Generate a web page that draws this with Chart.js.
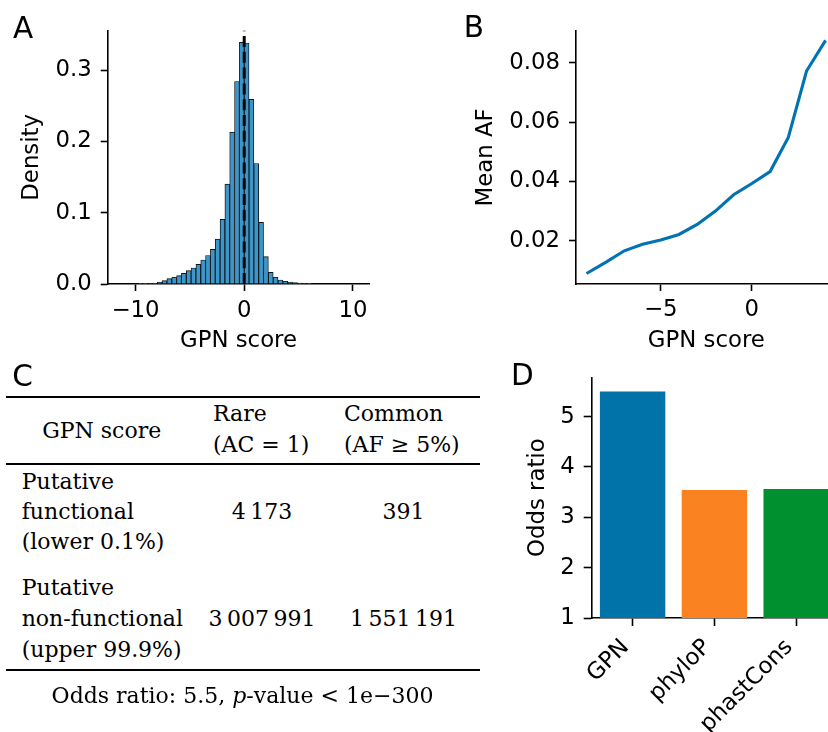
<!DOCTYPE html>
<html><head><meta charset="utf-8">
<script src="https://cdn.jsdelivr.net/npm/chart.js@4.4.0/dist/chart.umd.min.js"></script>
<style>
html,body{margin:0;padding:0;width:828px;height:732px;overflow:hidden;background:#fff;}
#fig{position:relative;width:828px;height:732px;overflow:hidden;background:#fff;}
canvas{position:absolute;}
.t{position:absolute;white-space:nowrap;font-family:'DejaVu Serif';font-size:22px;line-height:22px;color:#000;}
.lbl{position:absolute;white-space:nowrap;font-family:'DejaVu Sans';font-size:29.5px;line-height:29.5px;color:#000;}
.rule{position:absolute;background:#000;left:6px;width:474px;}
</style></head>
<body><div id="fig">
<canvas id="cA" width="420" height="370" style="left:0;top:0"></canvas>
<canvas id="cB" width="440" height="370" style="left:440px;top:0"></canvas>
<canvas id="cD" width="400" height="382" style="left:470px;top:350px"></canvas>
</div>
<script>
// ---------- data ----------
// Panel A: GPN score histogram (bin centres, density)
const histBinCenters = [-9.546, -9.102, -8.658, -8.214, -7.770, -7.326, -6.882, -6.438, -5.994, -5.550, -5.106, -4.662, -4.218, -3.774, -3.330, -2.886, -2.442, -1.998, -1.554, -1.110, -0.666, -0.222, 0.222, 0.666, 1.110, 1.554, 1.998, 2.442, 2.886, 3.330, 3.774, 4.218, 4.662, 5.106, 5.550, 5.994];
const histDensity = [0.0002, 0.0004, 0.0008, 0.0014, 0.0028, 0.0047, 0.0075, 0.0094, 0.0117, 0.0150, 0.0187, 0.0224, 0.0276, 0.0337, 0.0400, 0.0486, 0.0630, 0.0907, 0.1400, 0.2130, 0.2840, 0.3390, 0.3380, 0.2590, 0.1690, 0.0865, 0.0383, 0.0164, 0.0094, 0.0056, 0.0038, 0.0026, 0.0019, 0.0012, 0.0008, 0.0005];
const histXTicks = [-10, 0, 10];
const histYTicks = [0, 0.1, 0.2, 0.3];
const medianLineX = 0;

// Panel B: mean allele frequency by GPN score
const afScores = [-9, -8, -7, -6, -5, -4, -3, -2, -1, 0, 1, 2, 3, 4];
const meanAF = [0.0092, 0.0128, 0.0166, 0.0188, 0.0202, 0.0221, 0.0255, 0.0300, 0.0355, 0.0393, 0.0433, 0.0548, 0.0772, 0.0871];
const afXTicks = [-5, 0];
const afYTicks = [0.02, 0.04, 0.06, 0.08];

// Panel C: contingency table
const tableHeader = ['GPN score', ['Rare', '(AC = 1)'], ['Common', '(AF \u2265 5%)']];
const tableRowLabels = [['Putative', 'functional', '(lower 0.1%)'], ['Putative', 'non-functional', '(upper 99.9%)']];
const rareCounts = ['4\u2009173', '3\u2009007\u2009991'];
const commonCounts = ['391', '1\u2009551\u2009191'];
const tableCaption = 'Odds ratio: 5.5, <i>p</i>-value &lt; 1e\u2212300';

// Panel D: odds ratios
const methods = ['GPN', 'phyloP', 'phastCons'];
const oddsRatios = [5.5, 3.54, 3.56];
const oddsYTicks = [1, 2, 3, 4, 5];
const methodColors = ['#0173a8', '#fb8221', '#00902f'];

// ---------- helpers ----------
const FS = 22.8;
const HALF = FS * 1.2 / 2;
Chart.defaults.font.family = "'DejaVu Sans'";
Chart.defaults.font.size = FS;
Chart.defaults.color = '#000';
const LW = 1.6;
function fmt(v, d) { const s = Math.abs(v).toFixed(d); return v < 0 ? '\u2212' + s : s; }
function axis(o) {
  return Object.assign({
    offset: false,
    grid: { display: true, drawOnChartArea: false, drawTicks: true, tickLength: 7, tickWidth: LW, tickColor: '#000', color: '#000', offset: false },
    border: { display: true, color: '#000', width: LW },
  }, o);
}
const base = {
  responsive: false, animation: false, events: [], devicePixelRatio: 1,
  plugins: { legend: { display: false }, tooltip: { enabled: false } },
};

// ---------- Panel A ----------
const yMaxA = 0.3553;
new Chart(document.getElementById('cA'), {
  type: 'bar',
  data: { datasets: [
    { type: 'line', data: [{ x: medianLineX, y: 0 }, { x: medianLineX, y: yMaxA }], borderColor: '#000', borderWidth: 3, borderDash: [11, 4.8], pointRadius: 0, order: 0, clip: false },
    { type: 'bar', data: histBinCenters.map((c, i) => ({ x: c, y: histDensity[i] })), backgroundColor: '#3d96c9', borderColor: '#111', borderWidth: 0.9, barPercentage: 1, categoryPercentage: 1, order: 1 }
  ]},
  options: Object.assign({}, base, {
    layout: { padding: { left: 32.5 - HALF, top: 30.7, right: 50.7, bottom: 370 - 284 - (341 + HALF - 284) } },
    scales: {
      x: axis({ type: 'linear', min: -12.55, max: 11.5,
        ticks: { padding: 311 - 284 - 7 - HALF, autoSkip: false, maxRotation: 0, callback: v => fmt(v, 0) },
        afterBuildTicks: s => { s.ticks = histXTicks.map(v => ({ value: v })); },
        afterFit: s => { s.height = 341 + HALF - 284; },
        title: { display: true, text: 'GPN score', padding: 0, font: { size: FS } } }),
      y: axis({ type: 'linear', min: 0, max: yMaxA, beginAtZero: false,
        ticks: { padding: 9, autoSkip: false, callback: v => fmt(v, 1) },
        afterBuildTicks: s => { s.ticks = histYTicks.map(v => ({ value: v })); },
        afterFit: s => { s.width = 107.7 - (32.5 - HALF); },
        title: { display: true, text: 'Density', padding: 0, font: { size: FS } } })
    }
  })
});

// ---------- Panel B ----------
new Chart(document.getElementById('cB'), {
  type: 'line',
  data: { datasets: [
    { data: afScores.map((s, i) => ({ x: s, y: meanAF[i] })), borderColor: '#0173b2', borderWidth: 3.1, pointRadius: 0, tension: 0, fill: false, borderCapStyle: 'square' }
  ]},
  options: Object.assign({}, base, {
    layout: { padding: { left: 46 - HALF, top: 30.7, right: 43.4, bottom: 370 - 284 - (341.5 + HALF - 284) } },
    scales: {
      x: axis({ type: 'linear', min: -9.65, max: 4.65,
        ticks: { padding: 310 - 284 - 7 - HALF, autoSkip: false, maxRotation: 0, callback: v => fmt(v, 0) },
        afterBuildTicks: s => { s.ticks = afXTicks.map(v => ({ value: v })); },
        afterFit: s => { s.height = 341.5 + HALF - 284; },
        title: { display: true, text: 'GPN score', padding: 0, font: { size: FS } } }),
      y: axis({ type: 'linear', min: 0.0054, max: 0.0908,
        ticks: { padding: 9, autoSkip: false, callback: v => fmt(v, 2) },
        afterBuildTicks: s => { s.ticks = afYTicks.map(v => ({ value: v })); },
        afterFit: s => { s.width = 136 - (46 - HALF); },
        title: { display: true, text: 'Mean AF', padding: 0, font: { size: FS } } })
    }
  })
});

// ---------- Panel D ----------
new Chart(document.getElementById('cD'), {
  type: 'bar',
  data: { labels: methods, datasets: [
    { data: oddsRatios, backgroundColor: methodColors, borderWidth: 0, barPercentage: 1, categoryPercentage: 0.8 }
  ]},
  options: Object.assign({}, base, {
    layout: { padding: { left: 68 - HALF, top: 27.3, right: 32.9, bottom: 0 } },
    scales: {
      x: axis({ type: 'category', offset: true,
        grid: { display: true, drawOnChartArea: false, drawTicks: true, tickLength: 8, tickWidth: LW, tickColor: '#000', color: '#000', offset: false },
        ticks: { padding: 8, autoSkip: false, minRotation: 45, maxRotation: 45, labelOffset: -7 },
        afterFit: s => { s.height = 114; } }),
      y: axis({ type: 'linear', min: 1, max: 5.78, beginAtZero: false,
        grid: { display: true, drawOnChartArea: false, drawTicks: true, tickLength: 8, tickWidth: LW, tickColor: '#000', color: '#000', offset: false },
        ticks: { padding: 9, autoSkip: false, callback: v => String(v) },
        afterBuildTicks: s => { s.ticks = oddsYTicks.map(v => ({ value: v })); },
        afterFit: s => { s.width = 121.7 - (68 - HALF); },
        title: { display: true, text: 'Odds ratio', padding: 0, font: { size: FS } } })
    }
  })
});

// ---------- Panel letters & Panel C table ----------
const fig = document.getElementById('fig');
function letter(ch, x, baseline) {
  const d = document.createElement('div'); d.className = 'lbl';
  d.textContent = ch; d.style.left = x + 'px'; d.style.top = (baseline - 0.846 * 29.5) + 'px';
  fig.appendChild(d);
}
letter('A', 13.1, 39.3); letter('B', 463.8, 38.4); letter('C', 12.3, 386.7); letter('D', 511.1, 386);

const TF = 22;
function txt(s, x, baseline, center, html) {
  const d = document.createElement('div'); d.className = 't';
  if (html) d.innerHTML = s; else d.textContent = s;
  d.style.top = (baseline - 0.846 * TF) + 'px';
  d.style.left = x + 'px';
  if (center) d.style.transform = 'translateX(-50%)';
  fig.appendChild(d);
}
function rule(y, h) {
  const d = document.createElement('div'); d.className = 'rule';
  d.style.top = (y - h / 2) + 'px'; d.style.height = h + 'px';
  fig.appendChild(d);
}
rule(396.7, 1.8); rule(464, 1.1); rule(670, 1.8);
txt(tableHeader[0], 101.7, 438.5, true);
txt(tableHeader[1][0], 213, 422, false); txt(tableHeader[1][1], 213, 452.5, false);
txt(tableHeader[2][0], 344, 422, false); txt(tableHeader[2][1], 344, 452.5, false);
const rowBaselines = [[489.5, 520, 550], [596, 627, 657.5]];
tableRowLabels.forEach((lines, r) => {
  lines.forEach((l, k) => txt(l, 21.7, rowBaselines[r][k], false));
  txt(rareCounts[r], 262, rowBaselines[r][1], true);
  txt(commonCounts[r], 403.5, rowBaselines[r][1], true);
});
txt(tableCaption, 242.5, 703.3, true, true);
</script>
</body></html>
